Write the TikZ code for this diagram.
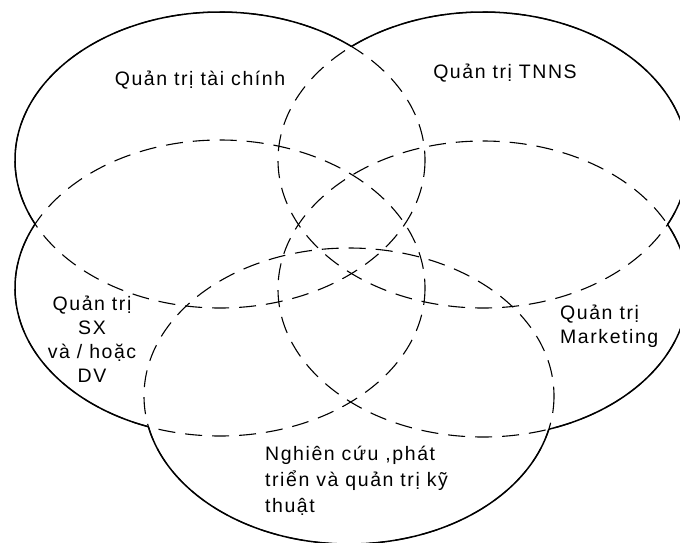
\documentclass[tikz,border=0pt]{standalone}
\usepackage{fontspec}
\setmainfont{Liberation Sans}[LetterSpace=8]

\tikzset{
  zone/.style={line width=1.1pt, dash pattern=on 17pt off 10pt},
  rim/.style={line width=1.5pt},
  lbl/.style={inner sep=0pt, font=\fontsize{19.5}{24}\selectfont}
}
\newcommand{\cutaway}[1]{\clip (-20,-20) rectangle (700,562) (#1) ellipse [x radius=205, y radius=148];}

\begin{document}
\begin{tikzpicture}[x=1pt, y=-1pt]
    \useasboundingbox (0,0) rectangle (680,542);

    % 1. Centres of the five ellipses
    \coordinate (F) at (220,160); % finance
    \coordinate (H) at (483,160); % human resources
    \coordinate (P) at (220,288); % production
    \coordinate (M) at (483,289); % marketing
    \coordinate (R) at (349,396); % research

    % 2. Inner arcs (dashed)
    \foreach \ctr in {F, H, P, M, R} {
        \draw[zone] (\ctr) ellipse [x radius=205, y radius=148];
    }

    % 3. Outer rim (solid), each ellipse cut away by the other four
    \foreach \ctr/\oa/\ob/\oc/\od in {F/H/P/M/R, H/F/P/M/R, P/F/H/M/R, M/F/H/P/R, R/F/H/P/M} {
        \begin{scope}[even odd rule]
            \cutaway{\oa}\cutaway{\ob}\cutaway{\oc}\cutaway{\od}
            \draw[rim] (\ctr) ellipse [x radius=205, y radius=148];
        \end{scope}
    }

    % 4. Labels
    \node[lbl] (fin) at (200,80) {Quản trị tài chính};
    \node[lbl] (hr) at (505,73) {Quản trị TNNS};
    \node[lbl, align=center] (sx) at (92,339) {Quản trị\\SX\\và / hoặc\\DV};
    \node[lbl, align=left, anchor=west] (mkt) at (560,326) {Quản trị\\Marketing};
    \node[lbl, align=left, anchor=west, font=\fontsize{19.5}{26}\selectfont] (rd) at (265,481) {Nghiên cứu ,phát\\triển và quản trị kỹ\\thuật};

\end{tikzpicture}
\end{document}
